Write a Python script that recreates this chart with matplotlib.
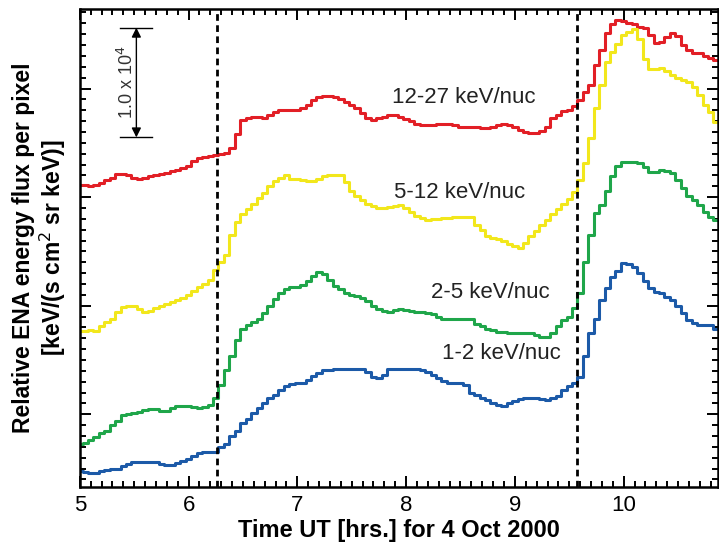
import numpy as np
import matplotlib
matplotlib.use("Agg")
import matplotlib.pyplot as plt
from matplotlib.ticker import MultipleLocator

plt.rcParams['font.family'] = ['Liberation Sans', 'DejaVu Sans']

# time axis, hours UT (3-minute bins, 5.00 ... 10.85)
hours = np.linspace(5.0, 10.85, 118)

# relative flux in units of 1e4 (curves are offset)
flux_12_27 = [3.11, 3.11, 3.10, 3.11, 3.13, 3.16, 3.18, 3.21, 3.21, 3.20,
              3.18, 3.17, 3.18, 3.19, 3.20, 3.21, 3.22, 3.24, 3.25, 3.27,
              3.29, 3.33, 3.36, 3.37, 3.38, 3.39, 3.40, 3.41, 3.45, 3.58,
              3.71, 3.73, 3.74, 3.74, 3.73, 3.76, 3.78, 3.80, 3.80, 3.80,
              3.80, 3.82, 3.85, 3.89, 3.92, 3.93, 3.93, 3.92, 3.90, 3.88,
              3.85, 3.82, 3.77, 3.73, 3.71, 3.73, 3.74, 3.76, 3.76, 3.74,
              3.72, 3.70, 3.67, 3.66, 3.66, 3.66, 3.67, 3.67, 3.67, 3.66,
              3.65, 3.65, 3.65, 3.65, 3.64, 3.64, 3.65, 3.66, 3.67, 3.66,
              3.65, 3.62, 3.60, 3.59, 3.59, 3.61, 3.65, 3.73, 3.76, 3.79,
              3.80, 3.84, 3.89, 3.97, 4.03, 4.22, 4.35, 4.51, 4.59, 4.63,
              4.62, 4.60, 4.59, 4.57, 4.56, 4.49, 4.42, 4.43, 4.47, 4.51,
              4.48, 4.40, 4.35, 4.33, 4.33, 4.30, 4.28, 4.26]
flux_5_12 = [1.77, 1.77, 1.78, 1.77, 1.81, 1.85, 1.88, 1.94, 1.99, 2.00,
             2.00, 1.97, 1.94, 1.95, 1.98, 2.00, 2.02, 2.03, 2.05, 2.07,
             2.10, 2.14, 2.17, 2.20, 2.24, 2.33, 2.40, 2.47, 2.65, 2.77,
             2.84, 2.89, 2.94, 2.99, 3.04, 3.10, 3.15, 3.18, 3.20, 3.17,
             3.17, 3.16, 3.15, 3.15, 3.17, 3.19, 3.20, 3.20, 3.20, 3.14,
             3.06, 3.01, 2.97, 2.94, 2.92, 2.90, 2.90, 2.91, 2.92, 2.93,
             2.90, 2.86, 2.83, 2.81, 2.79, 2.80, 2.80, 2.81, 2.81, 2.82,
             2.82, 2.82, 2.82, 2.74, 2.70, 2.64, 2.62, 2.61, 2.60, 2.57,
             2.55, 2.53, 2.58, 2.64, 2.69, 2.74, 2.79, 2.84, 2.89, 2.94,
             2.98, 3.05, 3.16, 3.31, 3.54, 3.82, 4.03, 4.24, 4.34, 4.41,
             4.49, 4.52, 4.55, 4.46, 4.27, 4.18, 4.18, 4.19, 4.16, 4.12,
             4.10, 4.08, 4.06, 4.01, 3.94, 3.85, 3.78, 3.69]
flux_2_5 = [0.73, 0.74, 0.76, 0.79, 0.83, 0.85, 0.90, 0.94, 0.99, 1.00,
            1.01, 1.02, 1.04, 1.05, 1.05, 1.03, 1.03, 1.06, 1.08, 1.08,
            1.08, 1.07, 1.06, 1.07, 1.09, 1.15, 1.27, 1.41, 1.54, 1.68,
            1.79, 1.82, 1.85, 1.88, 1.93, 2.00, 2.06, 2.12, 2.15, 2.17,
            2.17, 2.19, 2.23, 2.27, 2.31, 2.29, 2.24, 2.18, 2.15, 2.12,
            2.10, 2.09, 2.07, 2.04, 2.00, 1.97, 1.95, 1.94, 1.96, 1.97,
            1.96, 1.95, 1.94, 1.94, 1.93, 1.92, 1.90, 1.88, 1.88, 1.88,
            1.88, 1.88, 1.88, 1.83, 1.81, 1.79, 1.78, 1.76, 1.76, 1.75,
            1.75, 1.75, 1.75, 1.75, 1.73, 1.71, 1.71, 1.75, 1.81, 1.87,
            1.90, 1.98, 2.12, 2.40, 2.65, 2.85, 2.93, 3.06, 3.19, 3.29,
            3.32, 3.32, 3.32, 3.31, 3.28, 3.23, 3.23, 3.25, 3.24, 3.22,
            3.16, 3.08, 3.01, 2.97, 2.93, 2.86, 2.82, 2.79]
flux_1_2 = [0.48, 0.465, 0.46, 0.46, 0.48, 0.49, 0.50, 0.50, 0.52, 0.54,
            0.56, 0.56, 0.56, 0.56, 0.56, 0.54, 0.53, 0.53, 0.55, 0.57,
            0.59, 0.62, 0.64, 0.65, 0.65, 0.65, 0.70, 0.73, 0.80, 0.85,
            0.92, 0.96, 1.01, 1.06, 1.10, 1.15, 1.18, 1.22, 1.26, 1.28,
            1.29, 1.29, 1.32, 1.35, 1.38, 1.41, 1.41, 1.42, 1.42, 1.42,
            1.42, 1.42, 1.42, 1.39, 1.34, 1.33, 1.36, 1.42, 1.42, 1.42,
            1.42, 1.42, 1.42, 1.41, 1.39, 1.36, 1.33, 1.31, 1.29, 1.29,
            1.29, 1.27, 1.20, 1.18, 1.15, 1.13, 1.10, 1.09, 1.08, 1.10,
            1.12, 1.14, 1.15, 1.15, 1.15, 1.14, 1.13, 1.15, 1.17, 1.22,
            1.26, 1.29, 1.34, 1.54, 1.75, 1.88, 2.05, 2.16, 2.26, 2.32,
            2.39, 2.38, 2.36, 2.30, 2.23, 2.16, 2.13, 2.12, 2.08, 2.05,
            2.00, 1.93, 1.87, 1.84, 1.82, 1.82, 1.82, 1.79]

band_labels = ['12-27 keV/nuc', '5-12 keV/nuc', '2-5 keV/nuc', '1-2 keV/nuc']
band_colors = ['#e21f26', '#f2e71c', '#1fa64a', '#1c5aa8']
label_x = [7.87, 7.89, 8.23, 8.33]
label_y = [3.92, 3.04, 2.12, 1.56]
event_times = [6.26, 9.57]

fig = plt.figure(figsize=(7.19, 5.43), dpi=100)
ax = fig.add_axes([0.111, 0.103, 0.888, 0.880])

for flux, color in zip([flux_12_27, flux_5_12, flux_2_5, flux_1_2], band_colors):
    ax.plot(hours, flux, drawstyle='steps-mid', color=color, lw=2.2)

for t in event_times:
    ax.axvline(t, color='black', lw=2.0, linestyle=(0, (2.4, 1.6)))

for text, x, y in zip(band_labels, label_x, label_y):
    ax.text(x, y, text, fontsize=16, ha='left', va='center', color='#222222')

# scale bar 1.0 x 10^4
ax.annotate('', xy=(5.52, 4.56), xytext=(5.52, 3.55),
            arrowprops=dict(arrowstyle='<|-|>', color='black', lw=1.0,
                            mutation_scale=14, shrinkA=0, shrinkB=0))
ax.plot([5.37, 5.66], [4.56, 4.56], color='black', lw=1.0)
ax.plot([5.37, 5.66], [3.55, 3.55], color='black', lw=1.0)
ax.text(5.43, 4.06, r'1.0 x 10$^4$', rotation=90, fontsize=13,
        ha='center', va='center', color='#333333')

ax.set_xlim(5, 10.87)
ax.set_ylim(0.33, 4.73)
ax.xaxis.set_major_locator(MultipleLocator(1))
ax.xaxis.set_minor_locator(MultipleLocator(0.1))
ax.yaxis.set_major_locator(MultipleLocator(1))
ax.yaxis.set_minor_locator(MultipleLocator(0.1))
ax.tick_params(which='both', direction='in', top=True, right=True, width=1.4)
ax.tick_params(which='major', length=8, labelsize=16, pad=6)
ax.tick_params(which='minor', length=4)
ax.set_yticklabels([])
for sp in ax.spines.values():
    sp.set_linewidth(1.8)

ax.set_xlabel('Time UT [hrs.] for 4 Oct 2000', fontsize=17, fontweight='bold', labelpad=2)
ax.set_ylabel('Relative ENA energy flux per pixel\n[keV/(s cm$^2$ sr keV)]',
              fontsize=16.5, fontweight='bold', linespacing=1.1)
ax.yaxis.set_label_coords(-0.019, 0.5)

fig.savefig('out.png', dpi=100)
